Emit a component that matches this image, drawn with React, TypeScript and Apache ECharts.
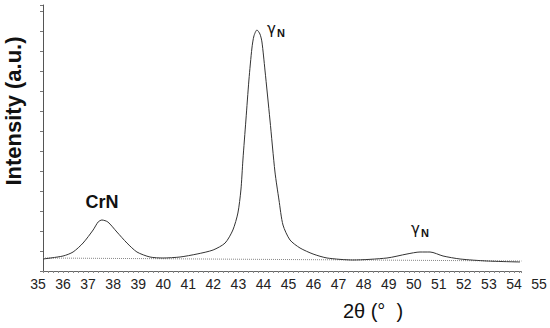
import React, { useEffect, useRef } from "react";
import * as echarts from "echarts";

// 2θ (degrees) and intensity (a.u.)
const twoTheta = [
  35.2, 36.0, 36.4, 36.8, 37.2, 37.4, 37.55, 37.79, 38.15, 38.55, 38.95, 39.47, 39.99,
  40.67, 41.35, 41.99, 42.47, 42.78, 42.98, 43.1, 43.18, 43.3, 43.42, 43.54, 43.62, 43.74,
  43.86, 43.94, 44.06, 44.26, 44.46, 44.62, 44.78, 45.06, 45.46, 45.98, 46.54, 47.57,
  48.93, 49.73, 50.25, 50.65, 51.17, 51.85, 52.92, 54.24,
];
const intensity = [
  60, 75, 95, 140, 205, 245, 255, 245, 195, 140, 95, 70, 65,
  70, 85, 105, 140, 205, 290, 405, 555, 755, 955, 1115, 1175, 1205,
  1185, 1145, 1005, 755, 495, 355, 230, 155, 115, 85, 65, 55,
  65, 85, 95, 95, 75, 60, 50, 45,
];
const baselineX = [35.2, 54.3];
const baselineY = [65, 50];
const xTickLabels = [35, 55];
const yRange = [0, 1330];

export default function App() {
  const ref = useRef<HTMLDivElement>(null);
  useEffect(() => {
    if (!ref.current) return;
    const chart = echarts.init(ref.current, null, { renderer: "svg" });
    const curve = twoTheta.map((x, i) => [x, intensity[i]]);
    const base = baselineX.map((x, i) => [x, baselineY[i]]);
    chart.setOption({
      animation: false,
      backgroundColor: "#ffffff",
      grid: [
        { left: 38, right: 11, top: 5, bottom: 57 },
        { left: 43, right: 28.5, top: 5, bottom: 57 },
      ],
      xAxis: [
        {
          type: "value",
          gridIndex: 0,
          min: xTickLabels[0],
          max: xTickLabels[1],
          interval: 1,
          axisLine: { show: false },
          axisTick: { show: false },
          splitLine: { show: false },
          axisLabel: {
            fontSize: 14,
            color: "#222",
            margin: 6,
            fontFamily: "Liberation Sans, Arial, sans-serif",
          },
        },
        {
          type: "value",
          gridIndex: 1,
          min: 35.2,
          max: 54.3,
          interval: 0.2,
          axisLine: { show: true, lineStyle: { color: "#666", width: 1 } },
          axisTick: { show: true, length: 2, lineStyle: { color: "#888", width: 1 } },
          axisLabel: { show: false },
          splitLine: { show: false },
        },
      ],
      yAxis: [
        {
          type: "value",
          gridIndex: 0,
          min: yRange[0],
          max: yRange[1],
          interval: 100,
          offset: -5,
          axisLine: { show: true, lineStyle: { color: "#555", width: 1 } },
          axisTick: { show: true, length: 3, lineStyle: { color: "#777", width: 1 } },
          axisLabel: { show: false },
          splitLine: { show: false },
        },
        {
          type: "value",
          gridIndex: 1,
          min: yRange[0],
          max: yRange[1],
          show: false,
        },
      ],
      series: [
        {
          type: "line",
          xAxisIndex: 0,
          yAxisIndex: 0,
          data: base,
          showSymbol: false,
          lineStyle: { color: "#888", width: 1, type: "dotted" },
          silent: true,
        },
        {
          type: "line",
          xAxisIndex: 0,
          yAxisIndex: 0,
          data: curve,
          showSymbol: false,
          smooth: 0.25,
          lineStyle: { color: "#333", width: 1 },
          silent: true,
        },
      ],
      graphic: [
        {
          type: "text",
          x: 13,
          y: 111,
          rotation: Math.PI / 2,
          style: {
            text: "Intensity (a.u.)",
            fontSize: 22,
            fontWeight: "bold",
            fontFamily: "Liberation Sans, Arial, sans-serif",
            fill: "#111",
            align: "center",
            verticalAlign: "middle",
          },
        },
        {
          type: "text",
          x: 373,
          y: 311,
          style: {
            text: "2θ (°  )",
            fontSize: 20,
            fontFamily: "Liberation Sans, Arial, sans-serif",
            fill: "#111",
            align: "center",
            verticalAlign: "middle",
          },
        },
        {
          type: "text",
          x: 102,
          y: 202,
          style: {
            text: "CrN",
            fontSize: 18,
            fontWeight: "bold",
            fontFamily: "Liberation Sans, Arial, sans-serif",
            fill: "#111",
            align: "center",
            verticalAlign: "middle",
          },
        },
        {
          type: "text",
          x: 267,
          y: 29,
          style: {
            text: "γ",
            fontSize: 15,
            fontFamily: "DejaVu Sans, sans-serif",
            fill: "#111",
            align: "left",
            verticalAlign: "middle",
          },
        },
        {
          type: "text",
          x: 277,
          y: 33,
          style: {
            text: "N",
            fontSize: 11,
            fontWeight: "bold",
            fontFamily: "Liberation Sans, Arial, sans-serif",
            fill: "#111",
            align: "left",
            verticalAlign: "middle",
          },
        },
        {
          type: "text",
          x: 411,
          y: 229,
          style: {
            text: "γ",
            fontSize: 15,
            fontFamily: "DejaVu Sans, sans-serif",
            fill: "#111",
            align: "left",
            verticalAlign: "middle",
          },
        },
        {
          type: "text",
          x: 421,
          y: 233,
          style: {
            text: "N",
            fontSize: 11,
            fontWeight: "bold",
            fontFamily: "Liberation Sans, Arial, sans-serif",
            fill: "#111",
            align: "left",
            verticalAlign: "middle",
          },
        },
      ],
    });
    return () => chart.dispose();
  }, []);
  return <div ref={ref} style={{ width: 550, height: 328, position: "absolute", left: 0, top: 0 }} />;
}
